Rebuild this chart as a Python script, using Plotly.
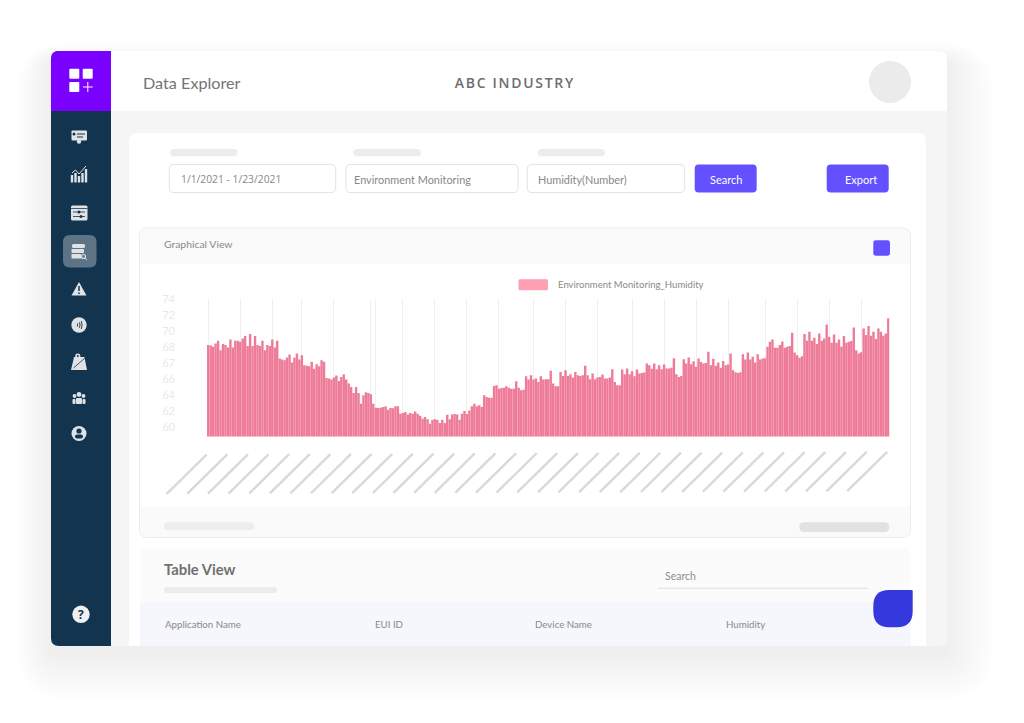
import plotly.graph_objects as go

W, H = 1024, 723

humidity = [
    68.97,68.93,68.79,69.15,69.44,68.42,69.08,68.97,68.71,69.59,68.71,69.44,69.44,69.33,69.7,69.95,68.86,70.17,68.86,69.95,68.97,68.86,69.44,68.42,68.97,68.86,69.59,68.71,69.44,
    67.51,67.4,67.33,67.62,67.95,67.07,67.58,68.06,67.4,67.87,66.78,66.71,66.67,67.15,66.38,66.89,66.67,67.33,67.15,
    65.39,65.32,65.21,65.43,65.65,65.06,65.5,65.79,65.21,64.77,64.41,63.75,64.41,63.75,62.58,63.5,63.82,63.75,63.6,
    62.58,62.14,62.11,62.14,62.22,62.29,61.93,62.11,62.07,62.29,62.29,
    61.49,61.56,61.67,61.41,61.56,61.49,61.74,61.49,61.27,60.94,61.12,60.87,60.39,60.83,60.87,60.83,60.46,60.83,60.46,61.38,60.87,61.41,61.45,61.41,60.83,61.49,61.78,61.45,61.85,62.29,62.58,62.29,62.4,62.22,63.49,63.31,63.24,63.24,64.52,64.59,64.22,64.3,64.33,64.48,64.33,64.22,64.22,65.03,64.33,64.04,64.11,65.57,65.21,65.68,65.21,65.32,64.95,65.57,65.21,65.25,65.25,66.16,64.77,64.48,64.48,66.05,65.61,66.23,65.61,65.79,65.43,66.05,65.68,65.61,65.68,66.71,65.68,65.25,65.87,65.25,65.43,65.5,65.76,65.32,65.32,65.43,66.34,64.95,64.59,64.59,66.3,65.79,66.41,65.79,66.12,65.57,66.3,65.87,65.94,65.98,66.96,66.78,66.38,66.96,66.34,
    66.78,66.34,66.85,66.41,66.41,66.49,67.54,65.79,65.5,65.61,67.44,66.96,67.62,66.89,67.22,66.6,67.51,67.14,66.96,67.03,68.24,66.78,67.47,66.71,67.07,66.49,67.25,66.78,66.85,68.06,66.23,66.01,65.94,66.01,67.98,67.4,68.17,67.4,67.69,67.07,67.98,67.4,67.51,67.54,68.79,69.33,69.59,68.68,68.68,68.97,69.37,68.68,68.79,68.86,70.32,68.17,67.87,67.58,67.76,70.17,69.44,70.43,69.44,69.77,69.08,70.25,69.44,69.7,71.23,69.88,69.22,70.14,69.22,69.59,68.79,69.95,69.22,69.33,69.41,70.9,68.42,68.06,68.2,70.79,70.06,71.05,69.99,70.43,69.63,70.79,70.43,69.99,70.25,71.89,
]
sample_index = list(range(len(humidity)))
grid_samples = [0,13,26,38,51,66,68,79,92,105,118,132,145,158,172,185,198,211,226,239,252,265,277]
y_tick_positions = [60,61.75,63.5,65.25,67,68.75,70.5,72.25,74]
y_tick_labels = ["60","62","64","66","67","68","70","72","74"]
series_name = "Environment Monitoring_Humidity"

def fx(x): return round(x / W, 5)
def fy(y): return round(1 - y / H, 5)

shapes = []
def rrect(x0, y0, x1, y1, fill, r=0, line=None, opacity=1, radii=None, lw=1):
    tl, tr, br, bl = radii if radii else (r, r, r, r)
    p = (f"M{fx(x0+tl)},{fy(y0)} L{fx(x1-tr)},{fy(y0)} Q{fx(x1)},{fy(y0)} {fx(x1)},{fy(y0+tr)} "
         f"L{fx(x1)},{fy(y1-br)} Q{fx(x1)},{fy(y1)} {fx(x1-br)},{fy(y1)} "
         f"L{fx(x0+bl)},{fy(y1)} Q{fx(x0)},{fy(y1)} {fx(x0)},{fy(y1-bl)} "
         f"L{fx(x0)},{fy(y0+tl)} Q{fx(x0)},{fy(y0)} {fx(x0+tl)},{fy(y0)} Z")
    shapes.append(dict(type="path", path=p, xref="paper", yref="paper", fillcolor=fill, opacity=opacity,
                       line=dict(color=line or "rgba(0,0,0,0)", width=lw if line else 0), layer="below"))
def circle(cx, cy, r, fill):
    shapes.append(dict(type="circle", xref="paper", yref="paper", x0=fx(cx-r), x1=fx(cx+r), y0=fy(cy+r), y1=fy(cy-r),
                       fillcolor=fill, line=dict(width=0), layer="below"))
def seg(x0, y0, x1, y1, color, w=1):
    shapes.append(dict(type="line", xref="paper", yref="paper", x0=fx(x0), y0=fy(y0), x1=fx(x1), y1=fy(y1),
                       line=dict(color=color, width=w), layer="below"))
def poly(pts, fill):
    p = "M" + " L".join(f"{fx(a)},{fy(b)}" for a, b in pts) + " Z"
    shapes.append(dict(type="path", path=p, xref="paper", yref="paper", fillcolor=fill, line=dict(width=0), layer="below"))

annotations = []
def label(x, y, text, size=11, color="#888888", anchor="left", weight=400, family="Lato"):
    annotations.append(dict(x=fx(x), y=fy(y), xref="paper", yref="paper", text=text, showarrow=False, xanchor=anchor,
                            yanchor="middle", borderpad=0, font=dict(family=family, size=size, color=color, weight=weight)))

# soft card shadow
for i in range(16):
    g = 44 - i * 2.8
    rrect(51 - g * 0.8, 51 - g * 0.4 + 10, 947 + g * 1.1, 646 + g * 1.05 + 8, "#000000", r=g + 8, opacity=0.0055)

# card
rrect(51, 51, 947, 646, "#f5f5f5", r=8)
rrect(111, 51, 947, 111, "#ffffff", radii=(0, 8, 0, 0))
rrect(51, 51, 111, 646, "#12344e", radii=(8, 0, 0, 8))
rrect(51, 51, 111, 111, "#7a00ff", radii=(8, 0, 0, 0))

# logo
ICON = "#dfe3e6"
NAVY = "#12344e"
rrect(69.3, 68.7, 79.3, 78.7, "#ffffff", r=1)
rrect(82.7, 68.7, 92.7, 78.7, "#ffffff", r=1)
rrect(69.3, 82, 79.3, 92, "#ffffff", r=1)
seg(83, 87, 92.7, 87, "#ffffff", 1)
seg(87.8, 82, 87.8, 92, "#ffffff", 1)

# sidebar icons
rrect(71.5, 130.5, 87, 140.5, ICON, r=1)
seg(77, 134, 85, 134, NAVY, 1); seg(77, 137, 83, 137, NAVY, 1)
circle(74, 134, 1.5, NAVY); circle(79, 141.5, 2.2, ICON)
for bx, by in [(72, 175), (75.5, 173), (79, 176), (82.5, 173), (86, 169)]:
    rrect(bx - 1.2, by, bx + 1.2, 182.5, ICON, r=0.6)
shapes.append(dict(type="path", xref="paper", yref="paper", layer="below", line=dict(color=ICON, width=1),
                   path=f"M{fx(72)},{fy(173)} L{fx(75.5)},{fy(170)} L{fx(79)},{fy(174)} L{fx(82.5)},{fy(170)} L{fx(86)},{fy(166)}"))
rrect(71, 205.5, 87.5, 220.5, ICON, r=1.5)
seg(71, 208.5, 87.5, 208.5, NAVY, 0.8)
seg(73, 212, 85, 212, NAVY, 0.8); seg(73, 216.5, 85, 216.5, NAVY, 0.8)
circle(79, 212, 1.5, NAVY); circle(81, 216.5, 1.5, NAVY)

rrect(63, 235, 96.5, 267.5, "#5c7486", r=7)
rrect(72, 244, 85, 248, ICON, r=1.5)
rrect(71.5, 249, 84, 253, ICON, r=0.5)
rrect(71.5, 254, 81, 258.5, ICON, r=0.5)
circle(83.5, 256.5, 2.6, ICON); circle(83.5, 256.5, 1.4, "#5c7486")
seg(85.3, 258.5, 87, 260, ICON, 1)

poly([(79, 282), (86.5, 295.5), (71.5, 295.5)], ICON)
seg(79, 286, 79, 291, NAVY, 1.5); seg(79, 292.5, 79, 294, NAVY, 1.5)

circle(79, 325, 7.7, ICON)
for x0, c0, h in [(77.5, 77.8, 1.6), (79.5, 80.5, 2.8), (81.3, 82.8, 4)]:
    shapes.append(dict(type="path", xref="paper", yref="paper", layer="below", line=dict(color=NAVY, width=0.9),
                       path=f"M{fx(x0)},{fy(325-h)} Q{fx(c0)},{fy(325)} {fx(x0)},{fy(325+h)}"))

poly([(74, 357), (84.5, 357), (87, 370), (71, 370)], ICON)
seg(73.5, 368, 85, 358, NAVY, 0.8)
circle(77.8, 356, 2.6, ICON); circle(77.8, 356, 1, NAVY)

circle(79, 394.5, 2.4, ICON); circle(74.5, 396, 1.9, ICON); circle(83.5, 396, 1.9, ICON)
rrect(76, 398, 82, 404, ICON, r=1); rrect(72.5, 399, 75.5, 404, ICON, r=1); rrect(82.5, 399, 85.5, 404, ICON, r=1)

circle(79, 433.5, 7.5, ICON)
circle(79, 431, 2.6, NAVY)
rrect(75, 434.5, 83, 438.5, NAVY, r=2)

circle(81, 614.3, 8.7, "#eef0f1")
label(81, 614.3, "?", size=12, color=NAVY, anchor="center", weight=700, family="Open Sans")

# header
circle(890, 82, 21, "#ebebeb")
label(142, 82, "Data Explorer", size=16.2, color="#757575")
label(515, 82, "ABC INDUSTRY", size=14, color="#6e6e6e", anchor="center", weight=600, family="Open Sans")

# main panel
rrect(129, 133, 926, 646, "#ffffff", radii=(8, 8, 0, 0))
for a, b in [(170, 237.3), (353.3, 421), (537.7, 605)]:
    rrect(a, 149, b, 156.3, "#ececec", r=3.6)
for a, b in [(169.3, 335.7), (346, 518), (527.3, 684.7)]:
    rrect(a, 164.4, b, 192.6, "#ffffff", r=5, line="#e2e2e2")
for a, b in [(694.7, 756.7), (826.7, 888.7)]:
    rrect(a, 164.4, b, 192.6, "#6350ff", r=4)
label(180, 179, "1/1/2021 - 1/23/2021", size=10.3, family="Open Sans")
label(353, 179, "Environment Monitoring", size=10.9)
label(536.5, 179, "Humidity(Number)", size=10.9)
label(726.5, 179.5, "Search", size=11, color="#ffffff", anchor="center")
label(861, 179.5, "Export", size=11, color="#ffffff", anchor="center")

# graph panel
rrect(139.5, 228, 910.5, 537.5, "#ffffff", r=8, line="#ececec")
rrect(140, 228.5, 910, 263.5, "#fafafa", radii=(8, 8, 0, 0))
rrect(140, 506, 910, 537, "#fafafa", radii=(0, 0, 8, 8))
label(163, 244.5, "Graphical View", size=10.4)
rrect(873.3, 240.3, 890, 255.7, "#6350ff", r=2.5)
rrect(164, 522.3, 254, 530.3, "#ededed", r=4)
rrect(799.3, 522.3, 889.3, 532, "#e2e2e2", r=4.8)

# legend
rrect(518.5, 279.3, 548, 290.3, "#fe9fb3", r=1.5)
label(557.5, 285, series_name, size=9.55, color="#8a8a8a")

# rotated x labels (masked in the reference)
for k in range(34):
    t = k / 33
    x0 = 166.7 + k * 20.62
    y0 = 493.8 - 2.6 * t
    seg(x0, y0, x0 + 40, y0 - 39.3, "#d9d9d9", 2.4)

# table panel
rrect(140, 547.3, 910.5, 646, "#fbfbfb", radii=(8, 8, 0, 0))
rrect(140, 602.3, 910.5, 646, "#f6f7fc")
label(163, 569.5, "Table View", size=14.8, color="#707070", weight=700)
rrect(164, 587, 277, 593, "#ececec", r=3)
label(663.5, 576, "Search", size=10.5, color="#8e8e8e")
seg(658.3, 588.3, 867.7, 588.3, "#e0e0e0", 1)
label(164.5, 624, "Application Name", size=9.7)
label(374.5, 624, "EUI ID", size=9.7)
label(534.5, 624, "Device Name", size=9.7)
label(724.5, 624, "Humidity", size=9.7)
rrect(873.3, 590, 912.7, 627.3, "#3538dc", radii=(16, 1, 16, 16))

fig = go.Figure(go.Bar(
    x=sample_index, y=humidity, name=series_name, showlegend=False,
    marker=dict(color="#ee7b98", line=dict(width=0)),
))
fig.update_layout(
    width=W, height=H, margin=dict(l=0, r=0, t=0, b=0, autoexpand=False),
    paper_bgcolor="#ffffff", plot_bgcolor="rgba(0,0,0,0)",
    bargap=0.025, shapes=shapes, annotations=annotations,
    xaxis=dict(domain=[207 / W, 889.5 / W], range=[-0.5, len(humidity) - 0.5], tickmode="array", automargin=False,
               tickvals=grid_samples, showticklabels=False, ticks="", showgrid=True,
               gridcolor="#f0f0f0", gridwidth=1, zeroline=False, showline=False),
    yaxis=dict(domain=[1 - 436.5 / H, 1 - 299 / H], range=[59.0, 74], tickmode="array", automargin=False,
               tickvals=y_tick_positions, ticktext=y_tick_labels, showgrid=False, zeroline=False,
               showline=False, ticks="", ticklabelstandoff=31,
               tickfont=dict(family="Lato", size=11, color="#e9e9e9")),
)
post = """
document.body.style.margin='0';document.body.style.overflow='hidden';
document.querySelectorAll('svg text').forEach(function(t){
  if(t.textContent==='ABC INDUSTRY'){t.style.letterSpacing='1.7px';}
});
"""
fig.write_html("out.html", config=dict(displayModeBar=False), post_script=post)
